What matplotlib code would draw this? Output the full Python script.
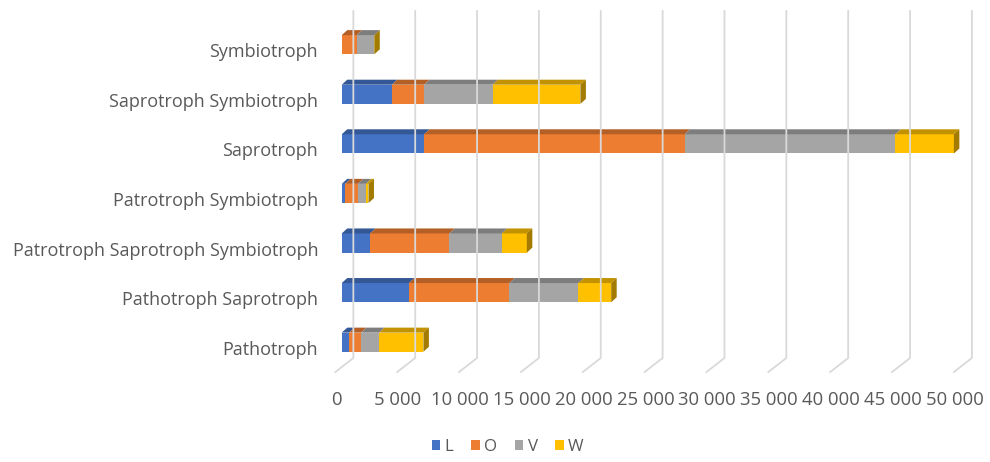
import matplotlib
matplotlib.use("Agg")
import matplotlib.pyplot as plt
from matplotlib.patches import Polygon, Patch
from matplotlib.lines import Line2D
from matplotlib.transforms import IdentityTransform, ScaledTranslation
import matplotlib.colors as mcolors

plt.rcParams['font.family'] = ['Open Sans', 'DejaVu Sans']

# guild categories, bottom to top
guilds = ["Pathotroph", "Pathotroph Saprotroph", "Patrotroph Saprotroph Symbiotroph",
          "Patrotroph Symbiotroph", "Saprotroph", "Saprotroph Symbiotroph", "Symbiotroph"]
series = ["L", "O", "V", "W"]
L_vals = [590, 5440, 2290, 270, 6660, 4050, 0]
O_vals = [970, 8110, 6420, 1030, 21060, 2610, 1210]
V_vals = [1460, 5580, 4230, 650, 17040, 5530, 1420]
W_vals = [3580, 2650, 2020, 210, 4720, 7100, 0]
x_ticks = list(range(0, 50001, 5000))

colors = ["#4472C4", "#ED7D31", "#A5A5A5", "#FFC000"]
text_col = "#595959"
grid_col = "#D9D9D9"


def shade(c, f):
    r, g, b = mcolors.to_rgb(c)
    return (r * f, g * f, b * f)


fig = plt.figure(figsize=(9.9, 4.62), dpi=100)
ax = fig.add_axes([0.3452, 0.2056, 0.6248, 0.7513])
ax.set_xlim(0, 50000)
ax.set_ylim(-0.5, len(guilds) - 0.5)
for s in ax.spines.values():
    s.set_visible(False)

# depth of the bars and of the back wall, in pixels
dx, dy = 5.5, 5.0
wall_dx = 11.6
floor_dx, floor_dy = 18.0, 14.0

bar_h = 0.387
ypos = list(range(len(guilds)))
data = [L_vals, O_vals, V_vals, W_vals]

# back wall gridlines with floor returns
tr = ax.transData
y_top = tr.transform((0, len(guilds) - 0.5))[1] + 8.9
y_bot = tr.transform((0, -0.5))[1] + 9.0
for v in x_ticks:
    xb = tr.transform((v, 0))[0] + wall_dx
    line = Line2D([xb, xb, xb - floor_dx], [y_top, y_bot, y_bot - floor_dy],
                  color=grid_col, lw=1.3, transform=IdentityTransform(),
                  zorder=0.5, clip_on=False)
    fig.add_artist(line)

# stacked 3D bars: front faces, top faces and end caps
left = [0] * len(guilds)
for si, vals in enumerate(data):
    ax.barh(ypos, vals, left=left, height=bar_h, color=colors[si],
            linewidth=0, zorder=3)
    for i, v in enumerate(vals):
        x0, yt = tr.transform((left[i], ypos[i] + bar_h / 2))
        x1, yb = tr.transform((left[i] + v, ypos[i] - bar_h / 2))
        top = Polygon([(x0, yt), (x1, yt), (x1 + dx, yt + dy), (x0 + dx, yt + dy)],
                      closed=True, facecolor=shade(colors[si], 0.76),
                      edgecolor="none", transform=IdentityTransform(),
                      zorder=3, clip_on=False)
        ax.add_patch(top)
        if si == len(data) - 1:
            side = Polygon([(x1, yb), (x1, yt), (x1 + dx, yt + dy), (x1 + dx, yb + dy)],
                           closed=True, facecolor=shade(colors[si], 0.64),
                           edgecolor="none", transform=IdentityTransform(),
                           zorder=3, clip_on=False)
            ax.add_patch(side)
    left = [a + b for a, b in zip(left, vals)]

# axis labels
ax.set_yticks(ypos)
ax.set_yticklabels(guilds, fontsize=13, color=text_col)
ax.set_xticks(x_ticks)
ax.set_xticklabels([f"{v:,}".replace(",", " ") for v in x_ticks],
                   fontsize=13.3, color=text_col)
ax.tick_params(axis="both", length=0)
ax.tick_params(axis="y", pad=17)
ax.tick_params(axis="x", pad=17)
for lab in ax.get_yticklabels():
    lab.set_transform(lab.get_transform() + ScaledTranslation(0, -4 / 72, fig.dpi_scale_trans))
for lab in ax.get_xticklabels():
    lab.set_transform(lab.get_transform() + ScaledTranslation(-4 / 72, 0, fig.dpi_scale_trans))

handles = [Patch(facecolor=c, edgecolor="none", label=s) for c, s in zip(colors, series)]
fig.legend(handles=handles, loc="center", bbox_to_anchor=(0.513, 0.033), ncol=4,
           frameon=False, fontsize=12.2, labelcolor=text_col,
           handlelength=0.5, handleheight=0.5, handletextpad=0.25,
           columnspacing=1.05)

fig.savefig("out.png", dpi=100)
